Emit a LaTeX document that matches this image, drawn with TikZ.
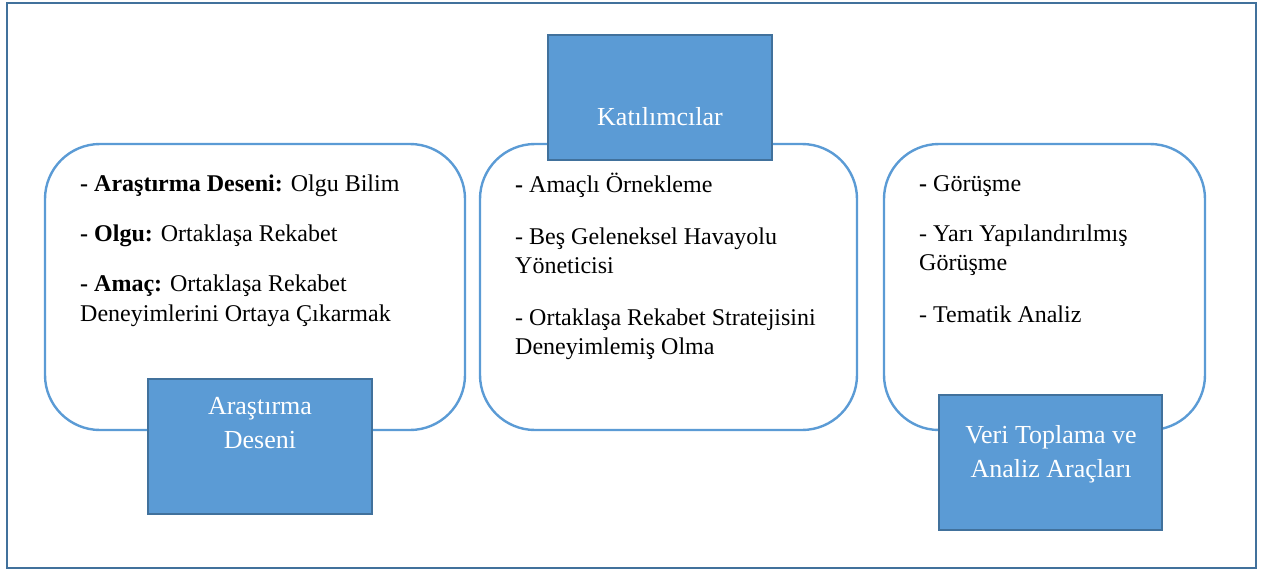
\documentclass[tikz,border=0pt]{standalone}
\usepackage{fontspec}
\setmainfont{Liberation Serif}
\begin{document}
\definecolor{boxblue}{HTML}{5B9BD5}
\definecolor{edgeblue}{HTML}{41719C}
\tikzset{
  panel/.style={draw=boxblue, line width=2.4pt, rounded corners=55pt, fill=white},
  tag/.style={draw=edgeblue, line width=2.4pt, fill=boxblue},
  txtline/.style={anchor=base west, inner sep=0pt, font=\rmfamily\fontsize{24}{30}\selectfont},
  tagtext/.style={anchor=base, inner sep=0pt, text=white, font=\rmfamily\fontsize{26}{34}\selectfont}
}
\begin{tikzpicture}[x=1pt, y=-1pt]
  \useasboundingbox (0,0) rectangle (1264,570);
  % outer frame
  \draw[edgeblue, line width=2.6pt] (7,3) rectangle (1256,568);

  % rounded panels
  \draw[panel] (45,144) rectangle (465,430);
  \draw[panel] (480,144) rectangle (857,430);
  \draw[panel] (884,144) rectangle (1205,430);

  % left panel text
  \node[txtline] (a1) at (80,191) {\textbf{- Araştırma Deseni:} Olgu Bilim};
  \node[txtline] (a2) at (80,241) {\textbf{- Olgu:} Ortaklaşa Rekabet};
  \node[txtline] (a3) at (80,291) {\textbf{- Amaç:} Ortaklaşa Rekabet};
  \node[txtline] (a4) at (80,321) {Deneyimlerini Ortaya Çıkarmak};

  % middle panel text
  \node[txtline] (b1) at (515,192) {\textbf{-} Amaçlı Örnekleme};
  \node[txtline] (b2) at (515,244) {- Beş Geleneksel Havayolu};
  \node[txtline] (b3) at (515,273) {Yöneticisi};
  \node[txtline] (b4) at (515,325) {- Ortaklaşa Rekabet Stratejisini};
  \node[txtline] (b5) at (515,354) {Deneyimlemiş Olma};

  % right panel text
  \node[txtline] (c1) at (919,191) {\textbf{-} Görüşme};
  \node[txtline] (c2) at (919,241) {- Yarı Yapılandırılmış};
  \node[txtline] (c3) at (919,270) {Görüşme};
  \node[txtline] (c4) at (919,322) {- Tematik Analiz};

  % title tags
  \draw[tag] (548,35) rectangle (772,160);
  \node[tagtext] (t1) at (660,125) {Katılımcılar};

  \draw[tag] (148,379) rectangle (372,514);
  \node[tagtext] (t2a) at (260,414) {Araştırma};
  \node[tagtext] (t2b) at (260,448) {Deseni};

  \draw[tag] (939,395) rectangle (1162,530);
  \node[tagtext] (t3a) at (1051,443) {Veri Toplama ve};
  \node[tagtext] (t3b) at (1051,477) {Analiz Araçları};
\end{tikzpicture}
\end{document}
